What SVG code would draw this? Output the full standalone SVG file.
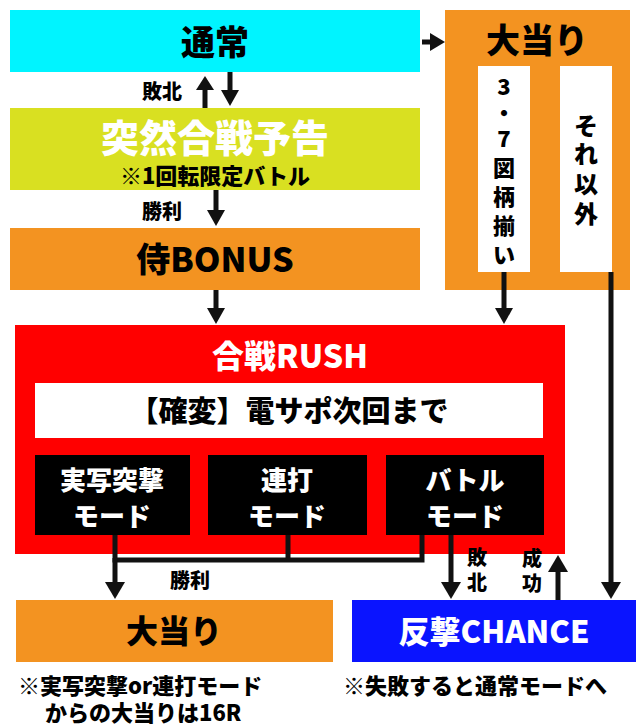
<svg xmlns="http://www.w3.org/2000/svg" width="640" height="727" viewBox="0 0 640 727">
<defs>
<style>
text{font-family:"Noto Sans CJK JP","Noto Sans",sans-serif;font-weight:900;text-anchor:middle}
.l{stroke:#111;stroke-width:5;fill:none}
.h{fill:#111}
</style>
</defs>
<rect width="640" height="727" fill="#fff"/>
<g id="tsujo"><rect x="10" y="10" width="410" height="62" fill="#00f4ff"/><text x="215" y="55" font-size="34">通常</text></g>
<g id="ootari-top"><rect x="445" y="10" width="185" height="280" fill="#f39321"/><text x="537" y="53" font-size="34">大当り</text>
<rect x="478" y="66" width="52" height="206" fill="#fff"/>
<g font-size="22"><text x="504" y="95">3</text><text x="504" y="121">・</text><text x="504" y="147">7</text><text x="504" y="176">図</text><text x="504" y="205">柄</text><text x="504" y="234">揃</text><text x="504" y="263">い</text></g>
<rect x="560" y="66" width="52" height="206" fill="#fff"/>
<g font-size="24"><text x="586" y="135">そ</text><text x="586" y="163">れ</text><text x="586" y="193">以</text><text x="586" y="223">外</text></g></g>
<g id="yokoku"><rect x="10" y="108" width="410" height="82" fill="#d9e021"/><text x="215" y="152" font-size="38" fill="#fff">突然合戦予告</text><text x="215" y="184" font-size="22">※1回転限定バトル</text></g>
<g id="bonus"><rect x="10" y="228" width="410" height="62" fill="#f39321"/><text x="215" y="272" font-size="34">侍BONUS</text></g>
<g id="rush"><rect x="15" y="325" width="550" height="229" fill="#ff0000"/><text x="290" y="368" font-size="32" fill="#fff">合戦RUSH</text>
<rect x="35" y="383" width="508" height="55" fill="#fff"/><text x="289" y="422" font-size="29">【確変】電サポ次回まで</text></g>
<g id="m1"><rect x="35" y="455" width="155" height="80" fill="#000"/><text x="112" y="490" font-size="26" fill="#fff">実写突撃</text><text x="112" y="526" font-size="26" fill="#fff">モード</text></g>
<g id="m2"><rect x="208" y="455" width="159" height="80" fill="#000"/><text x="287" y="490" font-size="26" fill="#fff">連打</text><text x="287" y="526" font-size="26" fill="#fff">モード</text></g>
<g id="m3"><rect x="386" y="455" width="158" height="80" fill="#000"/><text x="465" y="490" font-size="26" fill="#fff">バトル</text><text x="465" y="526" font-size="26" fill="#fff">モード</text></g>
<g id="ootari-bottom"><rect x="16" y="600" width="317" height="62" fill="#f39321"/><text x="174" y="643" font-size="32">大当り</text></g>
<g id="chance"><rect x="352" y="600" width="284" height="62" fill="#0a14ff"/><text x="494" y="643" font-size="31" fill="#fff">反撃CHANCE</text></g>
<g id="notes" font-size="22"><text x="18" y="694" style="text-anchor:start">※実写突撃or連打モード</text><text x="45" y="721" style="text-anchor:start">からの大当りは16R</text><text x="343" y="694" style="text-anchor:start">※失敗すると通常モードへ</text></g>
<g id="connectors">
<line class="l" x1="422" y1="42" x2="432" y2="42"/><path class="h" d="M430,33 L445,42 L430,51Z"/>
<line class="l" x1="205" y1="108" x2="205" y2="88"/><path class="h" d="M196,90 L205,76 L214,90Z"/>
<line class="l" x1="230" y1="72" x2="230" y2="92"/><path class="h" d="M221,90 L230,106 L239,90Z"/>
<line class="l" x1="216" y1="190" x2="216" y2="212"/><path class="h" d="M207,210 L216,226 L225,210Z"/>
<line class="l" x1="216" y1="290" x2="216" y2="310"/><path class="h" d="M207,308 L216,324 L225,308Z"/>
<line class="l" x1="504" y1="272" x2="504" y2="310"/><path class="h" d="M495,308 L504,324 L513,308Z"/>
<polyline class="l" points="115,535 115,560 422,560 422,535"/>
<line class="l" x1="288" y1="535" x2="288" y2="560"/>
<line class="l" x1="115" y1="558" x2="115" y2="584"/><path class="h" d="M105,582 L115,599 L125,582Z"/>
<line class="l" x1="451" y1="535" x2="451" y2="584"/><path class="h" d="M441,582 L451,599 L461,582Z"/>
<line class="l" x1="558" y1="600" x2="558" y2="570"/><path class="h" d="M548,572 L558,555 L568,572Z"/>
<line class="l" x1="611" y1="272" x2="611" y2="584"/><path class="h" d="M601,582 L611,599 L621,582Z"/>
<g font-size="20"><text x="162" y="99">敗北</text><text x="162" y="219">勝利</text><text x="190" y="588">勝利</text><text x="477" y="565">敗</text><text x="477" y="590">北</text><text x="532" y="566">成</text><text x="532" y="591">功</text></g>
</g>
</svg>
